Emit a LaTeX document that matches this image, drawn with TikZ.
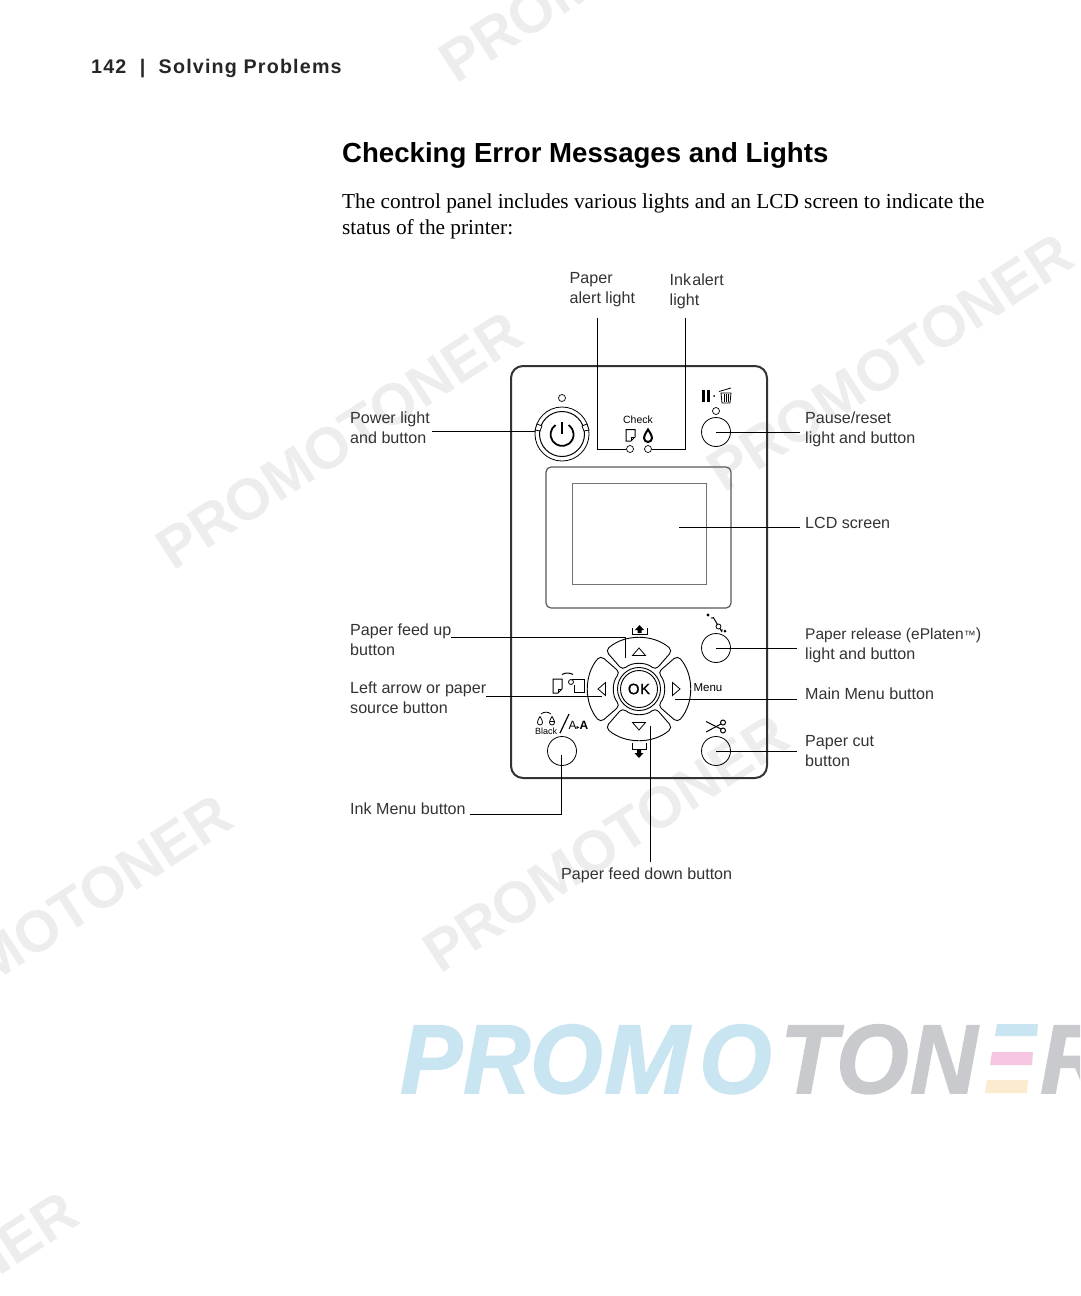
\documentclass[tikz,border=0pt]{standalone}
\usepackage{fontspec}
\setmainfont{Liberation Serif}
\newfontfamily\hsans{Liberation Sans}
\newfontfamily\labf{Liberation Sans}
\newfontfamily\logof[FakeBold=1.5]{Liberation Sans}
\newfontfamily\okf[FakeBold=.8]{Liberation Sans}
\newfontfamily\dejav{DejaVu Sans}
\definecolor{wm}{HTML}{EDEDED}
\definecolor{logob}{HTML}{C9E5F2}
\definecolor{logog}{HTML}{C8CACD}
\definecolor{logop}{HTML}{F6C6E0}
\definecolor{logoy}{HTML}{FCEBCF}
\definecolor{panelc}{HTML}{333333}
\tikzset{
  wmark/.style={anchor=base west,inner sep=0pt,text=wm,rotate=33,font=\hsans\bfseries\fontsize{58}{58}\selectfont},
  logoL/.style={anchor=base west,inner sep=0pt,font=\logof\bfseries\itshape\fontsize{98}{98}\selectfont,xscale=.95,transform shape},
  lead/.style={draw=black,line width=.9pt},
  lab/.style={anchor=west,inner sep=0pt,align=left,text=black!80,font=\labf\fontsize{16.1}{20}\selectfont},
  btn/.style={circle,draw=black,line width=.8pt,minimum size=29pt,inner sep=0pt},
  led/.style={circle,draw=black,line width=.7pt,minimum size=7pt,inner sep=0pt},
  petal/.style={draw=black,line width=.9pt,rounded corners=4.5pt},
  ico/.style={draw=black,line width=.8pt},
  tiny/.style={inner sep=0pt,font=\hsans},
}
\begin{document}
\begin{tikzpicture}[x=1pt,y=-1pt]
\useasboundingbox (0,0) rectangle (1080,1296);
\begin{scope}
\clip (0,0) rectangle (1080,1296);
\fill[white] (0,0) rectangle (1080,1296);
% watermarks
\node[wmark] (wa) at (456,85) {PROMOTONER};
\node[wmark] (wb) at (173,572) {PROMOTONER};
\node[wmark] (wc) at (440,975) {PROMOTONER};
\node[wmark] (wd) at (724,494) {PROMOTONER};
\node[wmark] (we) at (-117,1055) {PROMOTONER};
\node[wmark] (wf) at (-271,1452) {PROMOTONER};
% logo
\foreach \l/\x/\c/\n in {P/400/logob/a,R/463/logob/b,O/530/logob/c,O/699/logob/e,T/780/logog/f,O/836/logog/g,N/910/logog/h,R/1040/logog/i}
  \node[logoL,text=\c] (logo\n) at (\x,1093) {\l};
\node[logoL,text=logob,xscale=1.1] (logod) at (604,1093) {M};
\fill[logob] (997,1024) -- (1038,1024) -- (1037,1036) -- (995,1036) -- cycle;
\fill[logop] (992,1052) -- (1033,1052) -- (1032,1065) -- (990,1065) -- cycle;
\fill[logoy] (987,1080) -- (1028,1080) -- (1027,1093) -- (985,1093) -- cycle;
\end{scope}
% page text
\node[anchor=base west,inner sep=0pt,text=black!85] (hdr) at (91,73) {\hsans\bfseries\addfontfeature{LetterSpace=6}\fontsize{19.7}{20}\selectfont 142\hspace{.68em}|\hspace{.68em}Solving Problems};
\node[anchor=base west,inner sep=0pt] (title) at (342,162.5) {\hsans\bfseries\fontsize{27.6}{30}\selectfont Checking Error Messages and Lights};
\node[anchor=base west,inner sep=0pt] (b1) at (342,208.5) {\fontsize{21.3}{26}\selectfont The control panel includes various lights and an LCD screen to indicate the};
\node[anchor=base west,inner sep=0pt] (b2) at (342,234.5) {\fontsize{21.3}{26}\selectfont status of the printer:};
% panel
\draw[panelc,line width=2pt,rounded corners=12pt] (511,366) rectangle (767,778);
\draw[black!65,line width=1.2pt,rounded corners=5pt] (546,467) rectangle (731,608);
\draw[black!55,line width=1pt] (572,483) rectangle (706,584);
% power
\node[circle,draw=black,line width=.8pt,minimum size=54pt,inner sep=0pt] (pwr) at (562,434) {};
\node[circle,draw=black,line width=1pt,minimum size=45pt,inner sep=0pt] (pwrin) at (562,434) {};
\draw[ico,fill=white] (537,424) -- (542,426) -- (540,431) -- (535,430) -- cycle;
\draw[ico,fill=white] (582,426) -- (587,424) -- (589,430) -- (584,431) -- cycle;
\draw[black,line width=1.8pt] (555.5,425) arc[start angle=235,end angle=-55,radius=11.5];
\draw[black,line width=1.8pt] (562,422) -- (562,434);
\node[led] (ledp) at (562,398) {};
% check
\node[tiny,font=\hsans\fontsize{10.5}{11}\selectfont] (chk) at (638,420) {Check};
\draw[ico,line width=1pt] (626,429.5) -- (635,429.5) -- (635,437) -- (631,441) -- (626,441) -- cycle;
\draw[ico,line width=.7pt] (631,441) -- (631,437) -- (635,437);
\draw[black,line width=2pt] (648,429.5) .. controls (645,434) and (644,436) .. (644,438) arc[start angle=180,end angle=0,radius=4] .. controls (652,436) and (651,434) .. (648,429.5) -- cycle;
\node[led] (leda) at (630,449) {};
\node[led] (ledb) at (648,449) {};
% pause
\node[btn] (bpause) at (716,432) {};
\node[led] (ledc) at (716,411) {};
\fill[black] (701.5,390) rectangle (704.5,402);
\fill[black] (707,390) rectangle (710,402);
\fill[black] (714,396) circle (1pt);
\draw[ico] (721,393) -- (722,403) -- (730,403) -- (731,393) -- cycle;
\draw[ico,line width=.6pt] (724,394) -- (724,402) (726,394) -- (726,402) (728,394) -- (728,402);
\draw[ico] (719,391.5) -- (731,388);
% d-pad
\begin{scope}[shift={(639,689)}]
\foreach \r/\n in {0/t,90/r,180/b,270/l}
  \draw[petal,rotate=\r] (229:51) arc[start angle=229,end angle=311,radius=51] -- (311:25) arc[start angle=311,end angle=229,radius=25] -- cycle;
\draw[line width=.9pt] (0,0) circle (21.5);
\draw[line width=.9pt] (0,0) circle (18.5);
\draw[ico] (0,-41) -- (6.5,-33.5) -- (-6.5,-33.5) -- cycle;
\draw[ico] (0,41) -- (6.5,33.5) -- (-6.5,33.5) -- cycle;
\draw[ico] (-41,0) -- (-33.5,6.5) -- (-33.5,-6.5) -- cycle;
\draw[ico] (41,0) -- (33.5,6.5) -- (33.5,-6.5) -- cycle;
\end{scope}
\node[tiny,font=\okf\addfontfeature{LetterSpace=4}\fontsize{15}{16}\selectfont] (ok) at (639,689) {OK};
\node[tiny,font=\hsans\fontsize{11.5}{12}\selectfont] (menu) at (708,688) {Menu};
% tray up icon
\draw[ico] (632,628) -- (632,634) -- (647,634) -- (647,628);
\fill[black] (639.5,625) -- (644,630) -- (641.5,630) -- (641.5,633) -- (637.5,633) -- (637.5,630) -- (635,630) -- cycle;
% tray down icon
\draw[ico] (632,743) -- (632,749) -- (646,749) -- (646,743);
\fill[black] (639,758) -- (634.5,753) -- (637,753) -- (637,749) -- (641,749) -- (641,753) -- (643.5,753) -- cycle;
% paper source icon
\draw[ico,line width=1pt] (553,679) -- (562,679) -- (562,689) -- (558,693) -- (553,693) -- cycle;
\draw[ico] (558,693) -- (558,689) -- (562,689);
\draw[ico] (571,682) circle (2.5);
\draw[ico] (572,679.5) -- (584,679.5) -- (584,692) -- (574,692) -- (574,685);
\draw[ico,line width=1pt] (562,674.5) .. controls (565,672.5) and (570,672.5) .. (573,674.5);
% ink
\draw[ico] (540,716.5) .. controls (538,720) and (537.5,721) .. (537.5,722.5) arc[start angle=180,end angle=0,radius=2.5] .. controls (542.5,721) and (542,720) .. (540,716.5) -- cycle;
\draw[ico] (552,716.5) .. controls (550,720) and (549.5,721) .. (549.5,722.5) arc[start angle=180,end angle=0,radius=2.5] .. controls (554.5,721) and (554,720) .. (552,716.5) -- cycle;
\draw[ico] (549.5,721.5) -- (554.5,721.5);
\draw[ico] (541,714) .. controls (544,711.5) and (548,711.5) .. (551,714);
\node[tiny,font=\hsans\fontsize{9}{9}\selectfont] (blk) at (546,731) {Black};
\draw[black,line width=1.2pt] (560,733) -- (569,714);
\node[tiny,font=\hsans\fontsize{12}{12}\selectfont] (aa) at (578.5,725) {A\dejav\fontsize{6}{6}\selectfont ▸\hsans\bfseries\fontsize{12}{12}\selectfont A};
\node[btn] (bink) at (562,751) {};
% release
\node[btn] (brel) at (716,648) {};
\draw[black,line width=1pt] (713,617) -- (722,632);
\fill[black] (708,615) circle (1.6pt) (712,618) circle (.8pt) (722,630) circle (.8pt) (725,631) circle (1.5pt);
\draw[ico,fill=white] (718.5,626.5) circle (2.5);
% scissors
\node[btn] (bcut) at (716,751) {};
\draw[black,line width=1pt] (706,721.5) -- (721,729);
\draw[black,line width=1pt] (706,732) -- (721,724);
\draw[black,line width=1pt] (723,722.5) circle (2.5);
\draw[black,line width=1pt] (723,730.5) circle (2.5);
% labels
\node[lab] (lpaper) at (569.5,290) {Paper\\alert light};
\node[lab] (link) at (669.5,291.5) {Ink\hspace{.08em}alert\\light};
\node[lab] (lpower) at (350,428) {Power light\\and button};
\node[lab] (lpause) at (805,429) {Pause/reset\\light and button};
\node[lab] (llcd) at (805,523) {LCD screen};
\node[lab] (lup) at (350,640) {Paper feed up\\button};
\node[lab] (lrel) at (805,645.5) {{\fontsize{15.5}{20}\selectfont Paper release (ePlaten}{\fontsize{12}{10}\selectfont ™})\\light and button};
\node[lab] (lleft) at (350,697.5) {Left arrow or paper\\source button};
\node[lab] (lmenu) at (805,693.5) {Main Menu button};
\node[lab] (lcut) at (805,751) {Paper cut\\button};
\node[lab] (link2) at (350,808.5) {Ink Menu button};
\node[lab] (ldown) at (561,875.5) {Paper feed down button};
% leader ends
\coordinate (ca) at (597,318); \coordinate (cb) at (685,318);
\coordinate (cc) at (432,431); \coordinate (cd) at (535,431);
\coordinate (ce) at (800,432); \coordinate (cf) at (800,527); \coordinate (cg) at (679,527);
\coordinate (ch) at (451,637); \coordinate (ci) at (625,658);
\coordinate (cj) at (797,648); \coordinate (ck) at (486,696); \coordinate (cl) at (602,696);
\coordinate (cm) at (797,699); \coordinate (cn) at (675,699); \coordinate (co) at (797,751);
\coordinate (cp) at (470,814); \coordinate (cq) at (561,755);
\coordinate (cr) at (650,862); \coordinate (cs) at (650,726);
\draw[lead] (ca) |- (leda.west);
\draw[lead] (cb) |- (ledb.east);
\draw[lead] (cc) -- (cd);
\draw[lead] (ce) -- (bpause.center);
\draw[lead] (cf) -- (cg);
\draw[lead] (ch) -| (ci);
\draw[lead] (cj) -- (brel.center);
\draw[lead] (ck) -- (cl);
\draw[lead] (cm) -- (cn);
\draw[lead] (co) -- (bcut.center);
\draw[lead] (cp) -| (cq);
\draw[lead] (cr) -- (cs);
\end{tikzpicture}
\end{document}
